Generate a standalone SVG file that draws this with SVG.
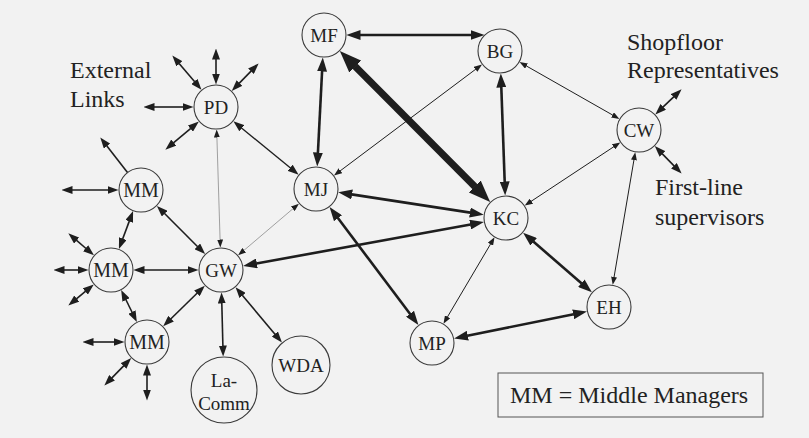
<svg xmlns="http://www.w3.org/2000/svg" width="809" height="438" viewBox="0 0 809 438">
<style>
.bg{fill:#f2f2f2}
.node{fill:none;stroke:#3a3a3a;stroke-width:1.1}
.lbl{font-family:'Liberation Serif','DejaVu Serif',serif;font-size:19px;fill:#222;text-anchor:middle}
.txt{font-family:'Liberation Serif','DejaVu Serif',serif;font-size:24px;fill:#222}
.e{stroke:#1e1e1e;fill:none}
.thin{stroke-width:1;marker-start:url(#s);marker-end:url(#s)}
.gray{stroke:#8a8a8a;stroke-width:0.8;marker-start:url(#s);marker-end:url(#s)}
.med{stroke-width:1.6;marker-start:url(#m);marker-end:url(#m)}
.one{stroke-width:1.6;marker-end:url(#m)}
.thick{stroke-width:2.6;marker-start:url(#l);marker-end:url(#l)}
.huge{stroke-width:7;marker-start:url(#x);marker-end:url(#x)}
</style>
<defs>
<marker id="s" markerUnits="userSpaceOnUse" markerWidth="8" markerHeight="6" viewBox="0 0 8 6" refX="0.5" refY="3" orient="auto-start-reverse"><path d="M0,0 L8,3 L0,6 z" fill="#1e1e1e"/></marker>
<marker id="m" markerUnits="userSpaceOnUse" markerWidth="11" markerHeight="8" viewBox="0 0 11 8" refX="0.5" refY="4" orient="auto-start-reverse"><path d="M0,0 L11,4 L0,8 z" fill="#1e1e1e"/></marker>
<marker id="l" markerUnits="userSpaceOnUse" markerWidth="14" markerHeight="10" viewBox="0 0 14 10" refX="0.5" refY="5" orient="auto-start-reverse"><path d="M0,0 L14,5 L0,10 z" fill="#1e1e1e"/></marker>
<marker id="x" markerUnits="userSpaceOnUse" markerWidth="22" markerHeight="17" viewBox="0 0 22 17" refX="0.5" refY="8.5" orient="auto-start-reverse"><path d="M0,0 L22,8.5 L0,17 z" fill="#1e1e1e"/></marker>
</defs>
<rect class="bg" x="0" y="0" width="809" height="438"/>

<g id="connectors">
<line class="e med" x1="194.7" y1="81.8" x2="179.1" y2="63.4"/>
<line class="e med" x1="216" y1="74" x2="216" y2="59"/>
<line class="e med" x1="239.1" y1="83.4" x2="251.3" y2="70.9"/>
<line class="e med" x1="183" y1="107" x2="154" y2="107"/>
<line class="e med" x1="190.8" y1="128.3" x2="173.4" y2="142.9"/>
<line class="e one" x1="127.5" y1="172.6" x2="106.7" y2="145.7"/>
<line class="e med" x1="108" y1="190" x2="72" y2="190"/>
<line class="e med" x1="129.4" y1="220.9" x2="122.6" y2="239.1"/>
<line class="e med" x1="164.3" y1="213.3" x2="197.7" y2="246.7"/>
<line class="e med" x1="86" y1="248.5" x2="76.3" y2="240.2"/>
<line class="e med" x1="78" y1="270" x2="64" y2="270"/>
<line class="e med" x1="85.7" y1="291.2" x2="76.4" y2="298.9"/>
<line class="e med" x1="144" y1="270" x2="188" y2="270"/>
<line class="e med" x1="125.8" y1="299.5" x2="132.2" y2="312.5"/>
<line class="e med" x1="114" y1="342" x2="93" y2="342"/>
<line class="e med" x1="123.9" y1="365.6" x2="111.7" y2="378.1"/>
<line class="e med" x1="147" y1="375" x2="147" y2="390"/>
<line class="e med" x1="170.7" y1="319" x2="197.3" y2="293"/>
<line class="e med" x1="221.8" y1="303" x2="222.9" y2="346"/>
<line class="e med" x1="242.3" y1="295.2" x2="275.2" y2="334.4"/>
<line class="e gray" x1="220.1" y1="240" x2="216.9" y2="137"/>
<line class="e gray" x1="243.8" y1="250.5" x2="293.2" y2="208.5"/>
<line class="e thick" x1="256.4" y1="263.5" x2="470.6" y2="224.5"/>
<line class="e med" style="stroke-width:1.3" x1="241.5" y1="127.9" x2="290.5" y2="168.1"/>
<line class="e thick" x1="322.1" y1="71" x2="317.9" y2="153"/>
<line class="e thin" x1="340" y1="171" x2="476" y2="69"/>
<line class="e thick" x1="351.6" y1="194.4" x2="470.4" y2="212.6"/>
<line class="e thick" x1="337.7" y1="217.8" x2="410.3" y2="314.2"/>
<line class="e thick" x1="360" y1="35" x2="471" y2="35"/>
<line class="e huge" x1="355" y1="66.2" x2="475" y2="186.8"/>
<line class="e thick" x1="501.3" y1="87" x2="504.7" y2="182"/>
<line class="e thin" x1="526.1" y1="65.8" x2="612.9" y2="115.2"/>
<line class="e thin" x1="531" y1="201.4" x2="614" y2="146.6"/>
<line class="e thick" x1="533.3" y1="241.5" x2="581.7" y2="283.5"/>
<line class="e thin" x1="490.7" y1="243.8" x2="447.3" y2="317.2"/>
<line class="e med" x1="662.9" y1="107.2" x2="674" y2="96.6"/>
<line class="e med" x1="662.1" y1="153.6" x2="674.3" y2="166.1"/>
<line class="e thin" x1="634" y1="159.6" x2="614" y2="277.4"/>
<line class="e thick" x1="467.3" y1="335.8" x2="573.7" y2="314.2"/>
</g>

<g id="PD"><circle class="node" cx="216" cy="107" r="22"/><text class="lbl" x="216" y="114">PD</text></g>
<g id="MM1"><circle class="node" cx="141" cy="190" r="22"/><text class="lbl" style="font-size:20px" x="141" y="197">MM</text></g>
<g id="MM2"><circle class="node" cx="111" cy="270" r="22"/><text class="lbl" style="font-size:20px" x="111" y="277">MM</text></g>
<g id="MM3"><circle class="node" cx="147" cy="342" r="22"/><text class="lbl" style="font-size:20px" x="147" y="349">MM</text></g>
<g id="GW"><circle class="node" cx="221" cy="270" r="22"/><text class="lbl" x="221" y="277">GW</text></g>
<g id="LaComm"><circle class="node" cx="224" cy="390" r="33"/><text class="lbl" x="224" y="387">La-</text><text class="lbl" x="224" y="410">Comm</text></g>
<g id="WDA"><circle class="node" cx="301" cy="365" r="29"/><text class="lbl" x="301" y="372">WDA</text></g>
<g id="MF"><circle class="node" cx="324" cy="35" r="22"/><text class="lbl" x="324" y="42">MF</text></g>
<g id="BG"><circle class="node" cx="500" cy="51" r="22"/><text class="lbl" x="500" y="58">BG</text></g>
<g id="MJ"><circle class="node" cx="316" cy="189" r="22"/><text class="lbl" x="316" y="196">MJ</text></g>
<g id="KC"><circle class="node" cx="506" cy="218" r="22"/><text class="lbl" x="506" y="225">KC</text></g>
<g id="MP"><circle class="node" cx="432" cy="343" r="22"/><text class="lbl" x="432" y="350">MP</text></g>
<g id="CW"><circle class="node" cx="639" cy="130" r="22"/><text class="lbl" x="639" y="137">CW</text></g>
<g id="EH"><circle class="node" cx="609" cy="307" r="22"/><text class="lbl" x="609" y="314">EH</text></g>

<g id="labels">
<text class="txt" x="70" y="78">External</text>
<text class="txt" x="70" y="107">Links</text>
<text class="txt" x="627" y="50">Shopfloor</text>
<text class="txt" x="627" y="78">Representatives</text>
<text class="txt" x="655" y="195">First-line</text>
<text class="txt" x="655" y="225">supervisors</text>
</g>
<g id="legend">
<rect x="498" y="373" width="265" height="44" fill="none" stroke="#555" stroke-width="1"/>
<text class="txt" x="510" y="403">MM = Middle Managers</text>
</g>
</svg>
